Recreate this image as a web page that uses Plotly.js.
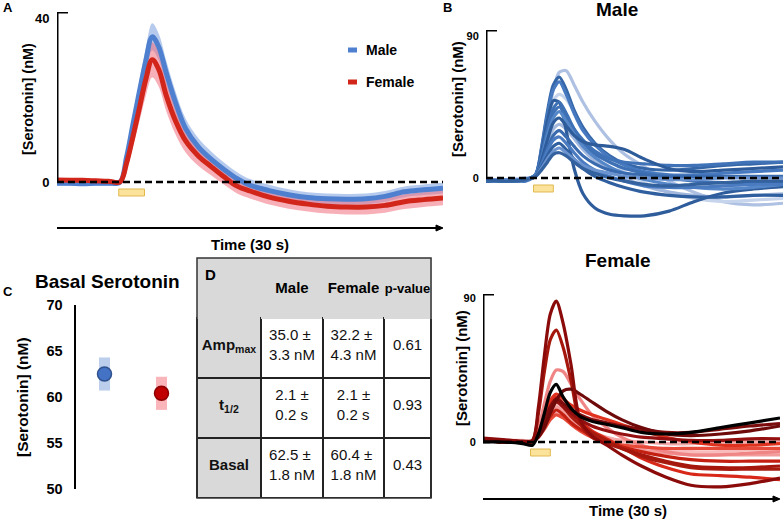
<!DOCTYPE html>
<html><head><meta charset="utf-8">
<script src="https://cdn.plot.ly/plotly-3.0.1.min.js"></script>
<style>html,body{margin:0;padding:0;background:#fff;}#chart{width:784px;height:521px;}</style>
</head><body><div id="chart"></div>
<script>
// ---------- DATA ----------
// Panel A: mean traces (nM) with SEM
const tA = [0, 1, 2, 3, 4, 4.9, 5.4, 5.9, 6.4, 6.9, 7.4, 7.9, 8.5, 9.2, 10, 11, 12, 13, 14, 15, 16.5, 18, 19.5, 21, 22.5, 24, 25.5, 27, 28.5, 30];
const maleMeanA = [-0.3, -0.3, -0.4, -0.3, -0.3, 0, 6, 14, 22, 29.5, 35.4, 33, 26.5, 19.5, 13, 8.5, 5.5, 3, 0.8, -0.8, -2.1, -3.1, -3.8, -4.1, -4.2, -4.1, -3.5, -2.4, -1.9, -1.5];
const maleSemA = [0.6, 0.6, 0.6, 0.6, 0.6, 0.6, 1.2, 1.9, 2.6, 3.1, 3.3, 3.2, 3.0, 2.7, 2.4, 2.1, 1.9, 1.7, 1.6, 1.5, 1.4, 1.3, 1.3, 1.3, 1.3, 1.3, 1.3, 1.3, 1.3, 1.3];
const femaleMeanA = [0.5, 0.45, 0.4, 0.3, 0.2, 0, 4.5, 11, 18, 25, 29.8, 27.5, 21, 15, 10, 6.3, 3.7, 1.2, -1.0, -2.2, -3.7, -4.7, -5.4, -5.9, -6.1, -6.1, -5.7, -4.8, -4.3, -3.9];
const femaleSemA = [0.5, 0.5, 0.5, 0.5, 0.5, 0.5, 1.4, 2.4, 3.3, 4.0, 4.3, 4.2, 3.8, 3.3, 2.8, 2.4, 2.1, 1.9, 1.8, 1.8, 1.8, 1.8, 1.8, 1.8, 1.8, 1.8, 1.8, 1.8, 1.8, 1.8];
const stim = [4.8, 6.8];

// Panel B: individual recordings (nM)
const tB = [0, 2, 4, 5, 5.6, 6.2, 6.8, 7.4, 8.1, 8.9, 9.8, 11, 12.5, 14, 16, 18.5, 21, 24, 27, 30];
const male01 = [-1, -1.5, -1, 1, 14, 36, 56, 67, 68, 59, 48, 36, 24, 15, 7, -2, -9, -15, -17, -16];
const male02 = [-1, -1, -1, 2, 15, 34, 49, 53, 50, 42, 32, 22, 12, 4, -3, -9, -13, -15, -14, -13];
const male03 = [-1, -1, 0, 1, 10, 22, 31, 34, 31, 25, 18, 11, 5, 0, -5, -9, -11, -12, -11, -10];
const male04 = [-1, -2, -1, 2, 19, 42, 59, 64, 56, 43, 32, 22, 14, 9, 6, 5, 6, 8, 9, 10];
const male05 = [-2, -1, -2, 2, 18, 40, 56, 61, 53, 41, 30, 21, 13, 8, 4, 2, 2, 3, 4, 5];
const male06 = [-1, -2, -1, 2, 16, 36, 49, 48, 30, 6, -10, -19, -23, -24, -24, -21, -15, -9.5, -7, -5.5];
const male07 = [-1, -1, -1, 2, 13, 29, 41, 45, 39, 31, 24, 17, 12, 10, 9, 8, 8, 9, 10, 10];
const male08 = [-2, -2, -1, 2, 14, 31, 44, 48, 41, 31, 22, 15, 10, 6, 3, 0, -2, -3, -3, -3];
const male09 = [-1, -2, -1, 2, 12, 27, 38, 42, 36, 28, 20, 13, 7, 3, -1, -4, -6, -7, -6, -4];
const male10 = [-1, -1, -1, 1, 11, 24, 35, 38, 33, 27, 23, 21, 20, 18, 12, 6, 4, 5, 6, 7];
const male11 = [-2, -1, -1, 1, 9, 19, 27, 30, 26, 20, 14, 9, 5, 3, 2, 1, 1, 1, 1, 1];
const male12 = [-1, -2, -1, 1, 8, 17, 24, 26, 22, 16, 10, 5, 1, -2, -5, -6, -6, -5, -4, -4];
const male13 = [-2, -1, -1, 1, 7, 14, 20, 22, 18, 12, 6, 1, -3, -6, -9, -11, -12, -12, -11, -11];
const male14 = [-1, -1, -1, 1, 6, 12, 17, 19, 16, 12, 8, 5, 3, 1, 0, -1, -1, 0, 0, 0];
const male15 = [-1, -2, -1, 1, 5, 10, 15, 16, 14, 10, 6, 3, 0, -2, -4, -5, -4, -3, -2, -2];

const female01 = [2, 1, 1, 0.5, 5, 13, 20, 24, 21, 16, 11, 6, 2, -1, -3, -5, -6, -6, -5, -5];
const female02 = [2, 1, 0, 0.5, 4, 9, 15, 18, 16, 12, 9, 6, 3, 1, 0, -1, -1, 0, 0, 0];
const female03 = [1, 1, 0, 0.5, 4, 11, 18, 22, 19, 14, 9, 4, 0, -3, -5, -7, -8, -8, -8, -8];
const female04 = [1.5, 1, 0, 0.5, 9, 24, 38, 45, 44, 36, 27, 17, 9, 3, -2, -6, -8, -8, -7, -6];
const female05 = [1, 1, 0, 0.5, 3, 8, 14, 17, 15, 11, 7, 3, 0, -2, -3, -4, -4, -4, -4, -4];
const female06 = [2, 1, 0, 0.5, 6, 16, 26, 30, 27, 23, 20, 17, 14, 11, 7, 3, 0, -2, -2, -1];
const female07 = [1, 1, 0, 0.5, 5, 14, 23, 28, 24, 19, 13, 7, 2, -3, -10, -16, -20, -21, -22, -23.5];
const female08 = [1, 0, 0, 0.5, 4, 10, 16, 20, 17, 12, 8, 4, 0, -3, -6, -9, -11, -12, -12, -12];
const female09 = [1, 0, 0, 0.5, 5, 13, 21, 26, 22, 16, 11, 6, 1, -4, -9, -13, -16, -17, -17, -17];
const female10 = [1, 1, 0, 0.5, 5, 13, 20, 25, 22, 18, 14, 10, 7, 5, 3, 2, 1, 1, 2, 2];
const female11 = [1.5, 1, 0, 1, 18, 44, 64, 70, 59, 38, 12, 3, -1, -4, -8, -12, -15, -16, -16, -15];
const female12 = [1, 0, 0, 0.5, 5, 13, 22, 27, 24, 20, 17, 14, 12, 10, 8, 6, 6, 8, 10, 11.5];
const female13 = [1, 0, 0, 0, 3, 9, 18, 26, 32, 33, 30, 25, 19, 14, 9, 5, 4, 5, 7, 10];
const female14 = [2.5, 1.5, 0.5, 1, 22, 54, 80, 88, 74, 48, 14, 4, -2, -8, -15, -22, -27, -28, -26, -22.5];
const female15 = [0, 0, -1, -2, 5, 18, 31, 36, 28, 21, 16, 13, 11, 9, 6, 5, 6, 9, 12, 15];

// Panel D table values (also used for panel C)
const rowLabels = ['Amp<sub>max</sub>', 't<sub>1/2</sub>', 'Basal'];
const maleMean = [35.0, 2.1, 62.5];
const maleSem = [3.3, 0.2, 1.8];
const femaleMean = [32.2, 2.1, 60.4];
const femaleSem = [4.3, 0.2, 1.8];
const units = ['nM', 's', 'nM'];
const pValues = ['0.61', '0.93', '0.43'];
const groups = ['Male', 'Female'];

// ---------- STYLE ----------
const W = 784, H = 521;
const FONT = 'Liberation Sans, Arial, sans-serif';
const px = v => v / W, py = v => 1 - v / H;
const maleSet = [male01, male02, male03, male04, male05, male06, male07, male08, male09, male10, male11, male12, male13, male14, male15];
const maleColors = ['#aec1e3', '#c6d4ec', '#a3b8dd', '#3566a8', '#4679bf', '#2f5d9c', '#3f72b6', '#3d70b4', '#5586c8', '#2e5c9b', '#3a6baf', '#4a7bc0', '#2f5f9f', '#6a93cf', '#33629f'];
const femaleSet = [female01, female02, female03, female04, female05, female06, female07, female08, female09, female10, female11, female12, female13, female14, female15];
const femaleColors = ['#f9bcbc', '#f5a8a8', '#f29c9c', '#f08585', '#e84a3a', '#e0321e', '#d8281a', '#c42012', '#a81c10', '#941010', '#a5170d', '#7d0c0c', '#6e0a0a', '#8b0b0b', '#000000'];

const traces = [];
// A bands + means
traces.push({x: tA, y: maleMeanA.map((m, i) => m - maleSemA[i]), mode: 'lines', line: {width: 0, shape: 'spline'}, xaxis: 'x', yaxis: 'y', hoverinfo: 'skip'});
traces.push({x: tA, y: maleMeanA.map((m, i) => m + maleSemA[i]), mode: 'lines', line: {width: 0, shape: 'spline'}, fill: 'tonexty', fillcolor: 'rgba(110,150,220,0.5)', xaxis: 'x', yaxis: 'y', hoverinfo: 'skip'});
traces.push({x: tA, y: femaleMeanA.map((m, i) => m - femaleSemA[i]), mode: 'lines', line: {width: 0, shape: 'spline'}, xaxis: 'x', yaxis: 'y', hoverinfo: 'skip'});
traces.push({x: tA, y: femaleMeanA.map((m, i) => m + femaleSemA[i]), mode: 'lines', line: {width: 0, shape: 'spline'}, fill: 'tonexty', fillcolor: 'rgba(240,110,125,0.55)', xaxis: 'x', yaxis: 'y', hoverinfo: 'skip'});
traces.push({x: tA, y: maleMeanA, name: 'Male', mode: 'lines', line: {color: '#4f80cf', width: 5, shape: 'spline'}, xaxis: 'x', yaxis: 'y'});
traces.push({x: tA, y: femaleMeanA, name: 'Female', mode: 'lines', line: {color: '#d2261a', width: 5, shape: 'spline'}, xaxis: 'x', yaxis: 'y'});
// B individual
maleSet.forEach((s, i) => traces.push({x: tB, y: s, mode: 'lines', line: {color: maleColors[i], width: 3.2, shape: 'spline', smoothing: 0.8}, xaxis: 'x2', yaxis: 'y2'}));
femaleSet.forEach((s, i) => traces.push({x: tB, y: s, mode: 'lines', line: {color: femaleColors[i], width: 3.2, shape: 'spline', smoothing: 0.8}, xaxis: 'x3', yaxis: 'y3'}));
// C basal
traces.push({x: [groups[0]], y: [maleMean[2]], mode: 'markers', xaxis: 'x4', yaxis: 'y4',
  error_y: {type: 'data', array: [maleSem[2]], thickness: 11, width: 0, color: 'rgba(120,160,220,0.5)'},
  marker: {size: 14, color: '#4472c4', line: {color: '#2f528f', width: 1.5}}});
traces.push({x: [groups[1]], y: [femaleMean[2]], mode: 'markers', xaxis: 'x4', yaxis: 'y4',
  error_y: {type: 'data', array: [femaleSem[2]], thickness: 11, width: 0, color: 'rgba(245,120,130,0.55)'},
  marker: {size: 14, color: '#c00000', line: {color: '#8b0000', width: 1.5}}});
// D table (single-line cells get a blank first line in a small base font so they sit mid-cell)
const big = (s, fs) => '<span style="font-size:' + fs + 'px">' + s + '</span>';
const maleTxt = maleMean.map((m, i) => m.toFixed(1) + ' ±<br>' + maleSem[i].toFixed(1) + ' ' + units[i]);
const femaleTxt = femaleMean.map((m, i) => m.toFixed(1) + ' ±<br>' + femaleSem[i].toFixed(1) + ' ' + units[i]);
traces.push({
  type: 'table',
  domain: {x: [px(197), px(431)], y: [py(498), py(258)]},
  columnwidth: [64, 62, 61, 47],
  header: {
    values: ['<b>D</b>', '\u00a0<br>' + big('<b>' + groups[0] + '</b>', 15), '\u00a0<br>' + big('<b>' + groups[1] + '</b>', 15), '\u00a0<br>' + big('<b>p-value</b>', 13)],
    align: ['left', 'center', 'center', 'center'],
    height: 60,
    fill: {color: '#d9d9d9'},
    line: {color: '#d9d9d9', width: 1},
    font: {family: FONT, size: [15, 12.5, 12.5, 12.5], color: '#000'}
  },
  cells: {
    values: [rowLabels.map(r => '\u00a0<br>' + big('<b>' + r + '</b>', 15)), maleTxt, femaleTxt, pValues.map(p => '\u00a0<br>' + big(p, 15))],
    align: 'center',
    height: 60,
    fill: {color: [rowLabels.map(() => '#d9d9d9'), rowLabels.map(() => '#fff'), rowLabels.map(() => '#fff'), rowLabels.map(() => '#fff')]},
    line: {color: '#222', width: 1.5},
    font: {family: FONT, size: [11, 15, 15, 11], color: '#111'}
  }
});

// ---------- AXES ----------
const yTopA = 41.46, yTopB = 93.8, yTopF = 92.5;
const yax = (dom, range, tv, fs, anchor) => ({domain: dom, range: range, anchor: anchor, tickvals: tv,
  showgrid: false, zeroline: false, showline: false, ticks: 'outside', ticklen: 4, tickcolor: 'rgba(0,0,0,0)',
  tickfont: {family: FONT, size: fs, color: '#000', weight: 700}, fixedrange: true});
const hidden = (dom, range, anchor) => ({domain: dom, range: range, anchor: anchor, visible: false, fixedrange: true});

const layout = {
  width: W, height: H, margin: {l: 0, r: 0, t: 0, b: 0},
  paper_bgcolor: '#fff', plot_bgcolor: 'rgba(0,0,0,0)', showlegend: false, hovermode: false,
  font: {family: FONT, color: '#000'},
  xaxis: hidden([px(57), px(443)], [0, 30], 'y'),
  yaxis: yax([py(215), py(12)], [-8.05, yTopA], [0, 40], 13, 'x'),
  xaxis2: hidden([px(486), px(783)], [0, 30], 'y2'),
  yaxis2: yax([py(225), py(30)], [-29.8, yTopB], [0, 90], 11, 'x2'),
  xaxis3: hidden([px(483), px(780)], [0, 30], 'y3'),
  yaxis3: yax([py(494), py(294)], [-32.5, yTopF], [0, 90], 11, 'x3'),
  xaxis4: {domain: [px(76), px(190)], anchor: 'y4', type: 'category', range: [-0.5, 1.5], visible: false, fixedrange: true},
  yaxis4: Object.assign(yax([py(489), py(305)], [50, 70], [50, 55, 60, 65, 70], 14.5, 'x4'),
    {showline: true, linewidth: 2.5, linecolor: '#000', ticklen: 8}),
  shapes: [], annotations: []
};

// axis decorations per panel
[['x', 'y', yTopA], ['x2', 'y2', yTopB], ['x3', 'y3', yTopF]].forEach(([xr, yr, top]) => {
  layout.shapes.push({type: 'line', xref: xr, yref: yr, x0: 0, x1: 0, y0: 0, y1: top, line: {color: '#000', width: 3}});
  layout.shapes.push({type: 'line', xref: xr, yref: yr, xsizemode: 'pixel', xanchor: 0, x0: -1.5, x1: 11, y0: top, y1: top, line: {color: '#000', width: 3}});
  layout.shapes.push({type: 'line', xref: xr + ' domain', yref: yr, x0: 0, x1: 1, y0: 0, y1: 0, line: {color: '#000', width: 2.5, dash: '7px,4px'}});
  layout.shapes.push({type: 'rect', xref: xr, yref: yr, x0: stim[0], x1: stim[1], ysizemode: 'pixel', yanchor: 0, y0: -7, y1: -14,
    fillcolor: '#fbe39c', line: {color: '#e2b94e', width: 1}});
});
// time arrows (A and female B)
const arrow = (x0, x1, y) => {
  layout.shapes.push({type: 'line', xref: 'paper', yref: 'paper', x0: px(x0), x1: px(x1 - 1), y0: py(y), y1: py(y), line: {color: '#000', width: 2}});
  layout.shapes.push({type: 'path', xref: 'paper', yref: 'paper', line: {color: '#000', width: 1}, fillcolor: '#000',
    path: 'M' + px(x1) + ',' + py(y) + ' L' + px(x1 - 7) + ',' + py(y - 3) + ' L' + px(x1 - 7) + ',' + py(y + 3) + ' Z'});
};
arrow(57, 443, 228);
arrow(483, 780, 499);
// legend swatches (panel A)
layout.shapes.push({type: 'line', xref: 'paper', yref: 'paper', x0: px(348), x1: px(357), y0: py(50), y1: py(50), line: {color: '#4f80cf', width: 5}});
layout.shapes.push({type: 'line', xref: 'paper', yref: 'paper', x0: px(348), x1: px(357), y0: py(82), y1: py(82), line: {color: '#d2261a', width: 5}});
// table outer border
layout.shapes.push({type: 'rect', xref: 'paper', yref: 'paper', x0: px(197), x1: px(431), y0: py(498), y1: py(258), line: {color: '#333', width: 1.5}});

const ann = (text, x, y, size, extra) => Object.assign({text: text, x: px(x), y: py(y), xref: 'paper', yref: 'paper', showarrow: false,
  xanchor: 'center', yanchor: 'middle', font: {family: FONT, size: size, color: '#000', weight: 700}}, extra || {});
layout.annotations.push(
  ann('A', 8, 7, 13), ann('B', 447, 8, 13), ann('C', 8, 291, 13),
  ann('Male', 617, 10, 19), ann('Female', 617, 260, 19), ann('Basal Serotonin', 107, 281, 19),
  ann('[Serotonin] (nM)', 28, 99, 14.5, {textangle: -90}),
  ann('[Serotonin] (nM)', 458, 99, 15, {textangle: -90}),
  ann('[Serotonin] (nM)', 461, 368, 15, {textangle: -90}),
  ann('[Serotonin] (nM)', 22, 397, 15.5, {textangle: -90}),
  ann('Time (30 s)', 250, 244, 15), ann('Time (30 s)', 628, 510, 15),
  ann(groups[0], 364, 50, 14, {xanchor: 'left'}), ann(groups[1], 364, 82, 14, {xanchor: 'left'})
);

Plotly.newPlot('chart', traces, layout, {staticPlot: true, displayModeBar: false});
</script></body></html>
